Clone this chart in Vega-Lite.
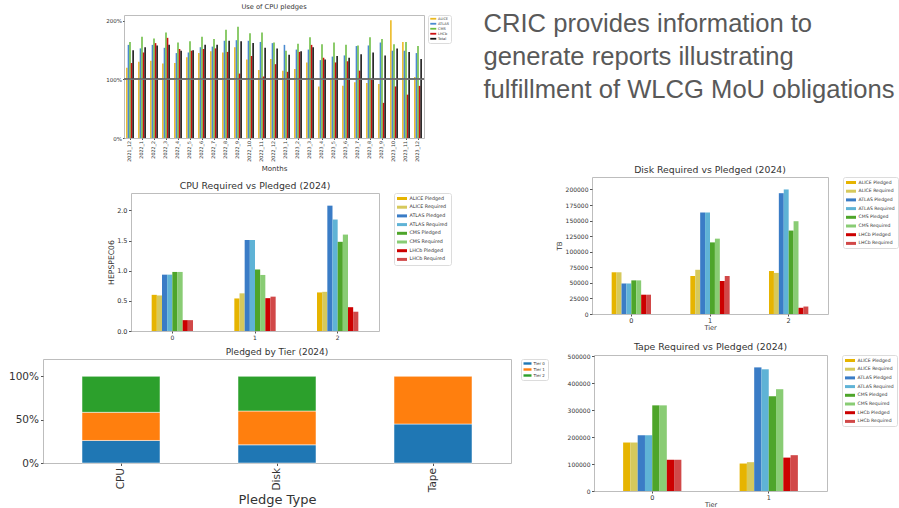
{
 "$schema": "https://vega.github.io/schema/vega-lite/v6.json",
 "background": "white",
 "padding": {"left": 5, "top": 3, "right": 0, "bottom": 0},
 "config": {
  "font": "DejaVu Sans",
  "view": {"stroke": "#bdbdbd", "strokeWidth": 1},
  "axis": {"grid": false, "domain": false, "labelColor": "#333", "titleColor": "#333", "tickColor": "#555", "titleFontWeight": "normal", "labelFont": "DejaVu Sans", "titleFont": "DejaVu Sans"},
  "title": {"font": "DejaVu Sans", "fontWeight": "normal", "color": "#333", "anchor": "middle"},
  "legend": {"labelFont": "DejaVu Sans", "labelColor": "#333", "strokeColor": "#dcdcdc", "cornerRadius": 2, "symbolType": "M-2,-0.6H2V0.6H-2Z", "symbolStrokeWidth": 0}
 },
 "resolve": {"scale": {"color": "independent", "xOffset": "independent"}, "legend": {"color": "independent"}},
 "columns": 1,
 "align": "none",
 "spacing": -7,
 "concat": [
  {
   "columns": 3,
   "align": "none",
   "spacing": 31,
   "resolve": {"scale": {"color": "independent", "xOffset": "independent"}, "legend": {"color": "independent"}},
   "concat": [
    {"width": 29, "height": 1, "view": {"stroke": null}, "data": {"values": []}, "mark": "point"},
    {
     "width": 300, "height": 123,
     "title": {"text": "Use of CPU pledges", "fontSize": 6.7, "offset": 4},
     "data": {"values": [
      {"month":"2021_12","series":"ALICE","value":120},{"month":"2021_12","series":"ATLAS","value":159},{"month":"2021_12","series":"CMS","value":164},{"month":"2021_12","series":"LHCb","value":128},{"month":"2021_12","series":"Total","value":150},
      {"month":"2022_1","series":"ALICE","value":130},{"month":"2022_1","series":"ATLAS","value":153},{"month":"2022_1","series":"CMS","value":173},{"month":"2022_1","series":"LHCb","value":146},{"month":"2022_1","series":"Total","value":155},
      {"month":"2022_2","series":"ALICE","value":132},{"month":"2022_2","series":"ATLAS","value":159},{"month":"2022_2","series":"CMS","value":170},{"month":"2022_2","series":"LHCb","value":162},{"month":"2022_2","series":"Total","value":158},
      {"month":"2022_3","series":"ALICE","value":127},{"month":"2022_3","series":"ATLAS","value":154},{"month":"2022_3","series":"CMS","value":180},{"month":"2022_3","series":"LHCb","value":171},{"month":"2022_3","series":"Total","value":159},
      {"month":"2022_4","series":"ALICE","value":128},{"month":"2022_4","series":"ATLAS","value":145},{"month":"2022_4","series":"CMS","value":163},{"month":"2022_4","series":"LHCb","value":152},{"month":"2022_4","series":"Total","value":149},
      {"month":"2022_5","series":"ALICE","value":138},{"month":"2022_5","series":"ATLAS","value":146},{"month":"2022_5","series":"CMS","value":165},{"month":"2022_5","series":"LHCb","value":149},{"month":"2022_5","series":"Total","value":150},
      {"month":"2022_6","series":"ALICE","value":145},{"month":"2022_6","series":"ATLAS","value":155},{"month":"2022_6","series":"CMS","value":173},{"month":"2022_6","series":"LHCb","value":152},{"month":"2022_6","series":"Total","value":159},
      {"month":"2022_7","series":"ALICE","value":148},{"month":"2022_7","series":"ATLAS","value":156},{"month":"2022_7","series":"CMS","value":169},{"month":"2022_7","series":"LHCb","value":153},{"month":"2022_7","series":"Total","value":159},
      {"month":"2022_8","series":"ALICE","value":146},{"month":"2022_8","series":"ATLAS","value":166},{"month":"2022_8","series":"CMS","value":185},{"month":"2022_8","series":"LHCb","value":147},{"month":"2022_8","series":"Total","value":166},
      {"month":"2022_9","series":"ALICE","value":155},{"month":"2022_9","series":"ATLAS","value":167},{"month":"2022_9","series":"CMS","value":190},{"month":"2022_9","series":"LHCb","value":110},{"month":"2022_9","series":"Total","value":165},
      {"month":"2022_10","series":"ALICE","value":134},{"month":"2022_10","series":"ATLAS","value":166},{"month":"2022_10","series":"CMS","value":179},{"month":"2022_10","series":"LHCb","value":140},{"month":"2022_10","series":"Total","value":162},
      {"month":"2022_11","series":"ALICE","value":116},{"month":"2022_11","series":"ATLAS","value":164},{"month":"2022_11","series":"CMS","value":180},{"month":"2022_11","series":"LHCb","value":105},{"month":"2022_11","series":"Total","value":154},
      {"month":"2022_12","series":"ALICE","value":135},{"month":"2022_12","series":"ATLAS","value":162},{"month":"2022_12","series":"CMS","value":163},{"month":"2022_12","series":"LHCb","value":126},{"month":"2022_12","series":"Total","value":153},
      {"month":"2023_1","series":"ALICE","value":115},{"month":"2023_1","series":"ATLAS","value":159},{"month":"2023_1","series":"CMS","value":149},{"month":"2023_1","series":"LHCb","value":113},{"month":"2023_1","series":"Total","value":142},
      {"month":"2023_2","series":"ALICE","value":118},{"month":"2023_2","series":"ATLAS","value":151},{"month":"2023_2","series":"CMS","value":161},{"month":"2023_2","series":"LHCb","value":147},{"month":"2023_2","series":"Total","value":148},
      {"month":"2023_3","series":"ALICE","value":129},{"month":"2023_3","series":"ATLAS","value":151},{"month":"2023_3","series":"CMS","value":172},{"month":"2023_3","series":"LHCb","value":159},{"month":"2023_3","series":"Total","value":155},
      {"month":"2023_4","series":"ALICE","value":88},{"month":"2023_4","series":"ATLAS","value":133},{"month":"2023_4","series":"CMS","value":160},{"month":"2023_4","series":"LHCb","value":137},{"month":"2023_4","series":"Total","value":134},
      {"month":"2023_5","series":"ALICE","value":102},{"month":"2023_5","series":"ATLAS","value":139},{"month":"2023_5","series":"CMS","value":163},{"month":"2023_5","series":"LHCb","value":129},{"month":"2023_5","series":"Total","value":140},
      {"month":"2023_6","series":"ALICE","value":89},{"month":"2023_6","series":"ATLAS","value":141},{"month":"2023_6","series":"CMS","value":159},{"month":"2023_6","series":"LHCb","value":131},{"month":"2023_6","series":"Total","value":137},
      {"month":"2023_7","series":"ALICE","value":95},{"month":"2023_7","series":"ATLAS","value":157},{"month":"2023_7","series":"CMS","value":158},{"month":"2023_7","series":"LHCb","value":115},{"month":"2023_7","series":"Total","value":143},
      {"month":"2023_8","series":"ALICE","value":94},{"month":"2023_8","series":"ATLAS","value":158},{"month":"2023_8","series":"CMS","value":172},{"month":"2023_8","series":"LHCb","value":101},{"month":"2023_8","series":"Total","value":146},
      {"month":"2023_9","series":"ALICE","value":92},{"month":"2023_9","series":"ATLAS","value":163},{"month":"2023_9","series":"CMS","value":169},{"month":"2023_9","series":"LHCb","value":60},{"month":"2023_9","series":"Total","value":141},
      {"month":"2023_10","series":"ALICE","value":201},{"month":"2023_10","series":"ATLAS","value":149},{"month":"2023_10","series":"CMS","value":160},{"month":"2023_10","series":"LHCb","value":88},{"month":"2023_10","series":"Total","value":153},
      {"month":"2023_11","series":"ALICE","value":164},{"month":"2023_11","series":"ATLAS","value":149},{"month":"2023_11","series":"CMS","value":164},{"month":"2023_11","series":"LHCb","value":74},{"month":"2023_11","series":"Total","value":147},
      {"month":"2023_12","series":"ALICE","value":104},{"month":"2023_12","series":"ATLAS","value":145},{"month":"2023_12","series":"CMS","value":157},{"month":"2023_12","series":"LHCb","value":89},{"month":"2023_12","series":"Total","value":135}
     ]},
     "layer": [
      {
       "mark": {"type": "bar"},
       "encoding": {
        "x": {"field": "month", "type": "nominal", "sort": null, "scale": {"paddingInner": 0.35, "paddingOuter": 0.175},
              "axis": {"title": "Months", "labelAngle": -90, "labelFontSize": 4.8, "tickSize": 1.5, "labelPadding": 1, "titleFontSize": 7, "titlePadding": 3}},
        "xOffset": {"field": "series", "type": "nominal", "sort": ["ALICE", "ATLAS", "CMS", "LHCb", "Total"], "scale": {"paddingInner": 0, "paddingOuter": 0}},
        "y": {"field": "value", "type": "quantitative", "scale": {"domain": [0, 210], "nice": false},
              "axis": {"title": null, "values": [0, 25, 50, 75, 100, 125, 150, 175, 200], "labelExpr": "datum.value + '%'", "labelFontSize": 5.5, "tickSize": 1.5, "labelPadding": 1, "minExtent": 20}},
        "color": {"field": "series", "type": "nominal",
                  "scale": {"domain": ["ALICE", "ATLAS", "CMS", "LHCb", "Total"], "range": ["#ebb920", "#4a8ad0", "#6cbd42", "#cc1010", "#151515"]},
                  "legend": {"title": null, "orient": "right", "offset": 4, "labelFontSize": 3.5, "symbolSize": 9, "symbolOffset": 1.5, "labelOffset": 3, "rowPadding": 0, "padding": 2}}
       }
      },
      {"mark": {"type": "rule", "color": "#777", "strokeWidth": 0.6, "opacity": 0.8}, "encoding": {"y": {"datum": 100}}}
     ]
    },
    {
     "width": 1, "height": 100,
     "view": {"stroke": null},
     "data": {"values": [
      {"line": 1, "text": "CRIC provides information to"},
      {"line": 2, "text": "generate reports illustrating"},
      {"line": 3, "text": "fulfillment of WLCG MoU obligations"}
     ]},
     "mark": {"type": "text", "align": "left", "baseline": "alphabetic", "font": "Liberation Sans", "fontSize": 25.6, "color": "#595959"},
     "encoding": {
      "y": {"field": "line", "type": "ordinal", "axis": null, "scale": {"padding": 0.515}},
      "text": {"field": "text", "type": "nominal"}
     }
    }
   ]
  },
  {
   "columns": 1,
   "align": "none",
   "spacing": 0,
   "resolve": {"scale": {"color": "independent", "xOffset": "independent"}, "legend": {"color": "independent"}},
   "concat": [
    {
     "columns": 2,
     "align": "none",
     "spacing": 0,
     "resolve": {"scale": {"color": "independent", "xOffset": "independent"}, "legend": {"color": "independent"}},
     "concat": [
      {"width": 60, "height": 1, "view": {"stroke": null}, "data": {"values": []}, "mark": "point"},
      {
       "columns": 2,
       "align": "none",
       "spacing": 102,
       "resolve": {"scale": {"color": "independent", "xOffset": "independent"}, "legend": {"color": "independent"}},
       "concat": [
        {
         "columns": 1,
         "align": "none",
         "spacing": 0,
         "resolve": {"scale": {"color": "independent", "xOffset": "independent"}, "legend": {"color": "independent"}},
         "concat": [
          {"width": 1, "height": 4, "view": {"stroke": null}, "data": {"values": []}, "mark": "point"},
          {
           "width": 248, "height": 138,
           "title": {"text": "CPU Required vs Pledged (2024)", "fontSize": 9.3, "offset": 1},
           "data": {"values": [
            {"tier":0,"series":"ALICE Pledged","value":600000},{"tier":0,"series":"ALICE Required","value":590000},{"tier":0,"series":"ATLAS Pledged","value":935000},{"tier":0,"series":"ATLAS Required","value":935000},{"tier":0,"series":"CMS Pledged","value":980000},{"tier":0,"series":"CMS Required","value":980000},{"tier":0,"series":"LHCb Pledged","value":180000},{"tier":0,"series":"LHCb Required","value":180000},
            {"tier":1,"series":"ALICE Pledged","value":540000},{"tier":1,"series":"ALICE Required","value":625000},{"tier":1,"series":"ATLAS Pledged","value":1510000},{"tier":1,"series":"ATLAS Required","value":1510000},{"tier":1,"series":"CMS Pledged","value":1020000},{"tier":1,"series":"CMS Required","value":930000},{"tier":1,"series":"LHCb Pledged","value":545000},{"tier":1,"series":"LHCb Required","value":570000},
            {"tier":2,"series":"ALICE Pledged","value":640000},{"tier":2,"series":"ALICE Required","value":650000},{"tier":2,"series":"ATLAS Pledged","value":2080000},{"tier":2,"series":"ATLAS Required","value":1850000},{"tier":2,"series":"CMS Pledged","value":1480000},{"tier":2,"series":"CMS Required","value":1600000},{"tier":2,"series":"LHCb Pledged","value":395000},{"tier":2,"series":"LHCb Required","value":320000}
           ]},
           "mark": "bar",
           "encoding": {
            "x": {"field": "tier", "type": "nominal", "scale": {"paddingInner": 0.5, "paddingOuter": 0.25}, "axis": {"title": null, "labelAngle": 0, "labelFontSize": 6, "tickSize": 2, "labelPadding": 1}},
            "xOffset": {"field": "series", "type": "nominal", "sort": ["ALICE Pledged","ALICE Required","ATLAS Pledged","ATLAS Required","CMS Pledged","CMS Required","LHCb Pledged","LHCb Required"], "scale": {"paddingInner": 0, "paddingOuter": 0}},
            "y": {"field": "value", "type": "quantitative", "scale": {"domain": [0, 2290000], "nice": false},
                  "axis": {"title": "HEPSPEC06", "values": [0, 500000, 1000000, 1500000, 2000000], "labelExpr": "format(datum.value / 1000000, '.1f')", "labelFontSize": 6.5, "tickSize": 2.5, "labelPadding": 1.5, "minExtent": 27, "titleFontSize": 7.7, "titleX": -16, "titleY": 69, "titleAngle": 270, "titleAlign": "center", "titleBaseline": "bottom"}},
            "color": {"field": "series", "type": "nominal",
                      "scale": {"domain": ["ALICE Pledged","ALICE Required","ATLAS Pledged","ATLAS Required","CMS Pledged","CMS Required","LHCb Pledged","LHCb Required"], "range": ["#e6b400","#d6c95c","#3a7cc6","#5fb3d6","#4ea52a","#89cc74","#cc0000","#d14848"]},
                      "legend": {"title": null, "orient": "right", "offset": 15, "labelFontSize": 4.8, "symbolSize": 25, "symbolOffset": 2.5, "labelOffset": 5, "rowPadding": 2.7, "padding": 3}}
           }
          }
         ]
        },
        {
         "width": 236, "height": 137,
         "title": {"text": "Disk Required vs Pledged (2024)", "fontSize": 9.3, "offset": 1},
         "data": {"values": [
          {"tier":0,"series":"ALICE Pledged","value":67000},{"tier":0,"series":"ALICE Required","value":67000},{"tier":0,"series":"ATLAS Pledged","value":49000},{"tier":0,"series":"ATLAS Required","value":49000},{"tier":0,"series":"CMS Pledged","value":54000},{"tier":0,"series":"CMS Required","value":54000},{"tier":0,"series":"LHCb Pledged","value":31000},{"tier":0,"series":"LHCb Required","value":31000},
          {"tier":1,"series":"ALICE Pledged","value":61000},{"tier":1,"series":"ALICE Required","value":71000},{"tier":1,"series":"ATLAS Pledged","value":163000},{"tier":1,"series":"ATLAS Required","value":163000},{"tier":1,"series":"CMS Pledged","value":115000},{"tier":1,"series":"CMS Required","value":121000},{"tier":1,"series":"LHCb Pledged","value":53000},{"tier":1,"series":"LHCb Required","value":61000},
          {"tier":2,"series":"ALICE Pledged","value":69000},{"tier":2,"series":"ALICE Required","value":66000},{"tier":2,"series":"ATLAS Pledged","value":194000},{"tier":2,"series":"ATLAS Required","value":200000},{"tier":2,"series":"CMS Pledged","value":134000},{"tier":2,"series":"CMS Required","value":149000},{"tier":2,"series":"LHCb Pledged","value":10000},{"tier":2,"series":"LHCb Required","value":12000}
         ]},
         "mark": "bar",
         "encoding": {
          "x": {"field": "tier", "type": "nominal", "scale": {"paddingInner": 0.5, "paddingOuter": 0.25}, "axis": {"title": "Tier", "labelAngle": 0, "labelFontSize": 6.5, "tickSize": 2, "labelPadding": 1, "titleFontSize": 6.5, "titlePadding": 1}},
          "xOffset": {"field": "series", "type": "nominal", "sort": ["ALICE Pledged","ALICE Required","ATLAS Pledged","ATLAS Required","CMS Pledged","CMS Required","LHCb Pledged","LHCb Required"], "scale": {"paddingInner": 0, "paddingOuter": 0}},
          "y": {"field": "value", "type": "quantitative", "scale": {"domain": [0, 220000], "nice": false},
                "axis": {"title": "TB", "values": [0, 25000, 50000, 75000, 100000, 125000, 150000, 175000, 200000], "format": "d", "labelFontSize": 6, "tickSize": 2.5, "labelPadding": 1.5, "titleFontSize": 7, "titleX": -30, "titleY": 68.5, "titleAngle": 270, "titleAlign": "center", "titleBaseline": "bottom"}},
          "color": {"field": "series", "type": "nominal",
                    "scale": {"domain": ["ALICE Pledged","ALICE Required","ATLAS Pledged","ATLAS Required","CMS Pledged","CMS Required","LHCb Pledged","LHCb Required"], "range": ["#e6b400","#d6c95c","#3a7cc6","#5fb3d6","#4ea52a","#89cc74","#cc0000","#d14848"]},
                    "legend": {"title": null, "orient": "right", "offset": 15, "labelFontSize": 4.6, "symbolSize": 25, "symbolOffset": 2.5, "labelOffset": 5, "rowPadding": 2.7, "padding": 3}}
         }
        }
       ]
      }
     ]
    },
    {
     "columns": 2,
     "align": "none",
     "spacing": 16,
     "resolve": {"scale": {"color": "independent", "xOffset": "independent"}, "legend": {"color": "independent"}},
     "concat": [
      {
       "columns": 1,
       "align": "none",
       "spacing": 0,
       "resolve": {"scale": {"color": "independent", "xOffset": "independent"}, "legend": {"color": "independent"}},
       "concat": [
        {"width": 1, "height": 5.8, "view": {"stroke": null}, "data": {"values": []}, "mark": "point"},
        {
         "width": 468, "height": 104,
         "title": {"text": "Pledged by Tier (2024)", "fontSize": 9, "offset": 1.5},
         "data": {"values": [
          {"type":"CPU","tier":"Tier 0","pct":26},{"type":"CPU","tier":"Tier 1","pct":32.5},{"type":"CPU","tier":"Tier 2","pct":41.5},
          {"type":"Disk","tier":"Tier 0","pct":21},{"type":"Disk","tier":"Tier 1","pct":39},{"type":"Disk","tier":"Tier 2","pct":40},
          {"type":"Tape","tier":"Tier 0","pct":45},{"type":"Tape","tier":"Tier 1","pct":55}
         ]},
         "mark": {"type": "bar", "stroke": "white", "strokeWidth": 0.5},
         "encoding": {
          "x": {"field": "type", "type": "nominal", "scale": {"paddingInner": 0.5, "paddingOuter": 0.25}, "axis": {"title": "Pledge Type", "labelAngle": -90, "labelFontSize": 10.5, "tickSize": 2.5, "labelPadding": 2, "titleFontSize": 13, "titlePadding": 2}},
          "y": {"field": "pct", "type": "quantitative", "stack": "zero", "scale": {"domain": [0, 120], "nice": false},
                "axis": {"title": null, "values": [0, 50, 100], "labelExpr": "datum.value + '%'", "labelFontSize": 10.5, "tickSize": 2.5, "labelPadding": 2, "minExtent": 37}},
          "color": {"field": "tier", "type": "nominal", "scale": {"domain": ["Tier 0", "Tier 1", "Tier 2"], "range": ["#1f77b4", "#ff7f0e", "#2ca02c"]},
                    "legend": {"title": null, "orient": "right", "offset": 10, "labelFontSize": 4, "symbolSize": 16, "symbolOffset": 2, "labelOffset": 4, "rowPadding": 2, "padding": 2.5}},
          "order": {"field": "tier", "sort": "ascending"}
         }
        }
       ]
      },
      {
       "columns": 1,
       "align": "none",
       "spacing": 0,
       "resolve": {"scale": {"color": "independent", "xOffset": "independent"}, "legend": {"color": "independent"}},
       "concat": [
        {"width": 1, "height": 1, "view": {"stroke": null}, "data": {"values": []}, "mark": "point"},
        {
         "width": 233, "height": 136,
         "title": {"text": "Tape Required vs Pledged (2024)", "fontSize": 9.3, "offset": 1},
         "data": {"values": [
          {"tier":0,"series":"ALICE Pledged","value":180000},{"tier":0,"series":"ALICE Required","value":180000},{"tier":0,"series":"ATLAS Pledged","value":207000},{"tier":0,"series":"ATLAS Required","value":207000},{"tier":0,"series":"CMS Pledged","value":318000},{"tier":0,"series":"CMS Required","value":318000},{"tier":0,"series":"LHCb Pledged","value":116000},{"tier":0,"series":"LHCb Required","value":116000},
          {"tier":1,"series":"ALICE Pledged","value":102000},{"tier":1,"series":"ALICE Required","value":107000},{"tier":1,"series":"ATLAS Pledged","value":459000},{"tier":1,"series":"ATLAS Required","value":452000},{"tier":1,"series":"CMS Pledged","value":352000},{"tier":1,"series":"CMS Required","value":378000},{"tier":1,"series":"LHCb Pledged","value":124000},{"tier":1,"series":"LHCb Required","value":133000}
         ]},
         "mark": "bar",
         "encoding": {
          "x": {"field": "tier", "type": "nominal", "scale": {"paddingInner": 0.5, "paddingOuter": 0.25}, "axis": {"title": "Tier", "labelAngle": 0, "labelFontSize": 6.5, "tickSize": 2, "labelPadding": 1, "titleFontSize": 6.5, "titlePadding": 1}},
          "xOffset": {"field": "series", "type": "nominal", "sort": ["ALICE Pledged","ALICE Required","ATLAS Pledged","ATLAS Required","CMS Pledged","CMS Required","LHCb Pledged","LHCb Required"], "scale": {"paddingInner": 0, "paddingOuter": 0}},
          "y": {"field": "value", "type": "quantitative", "scale": {"domain": [0, 505000], "nice": false},
                "axis": {"title": null, "values": [0, 100000, 200000, 300000, 400000, 500000], "format": "d", "labelFontSize": 6, "tickSize": 2.5, "labelPadding": 1.5, "minExtent": 28}},
          "color": {"field": "series", "type": "nominal",
                    "scale": {"domain": ["ALICE Pledged","ALICE Required","ATLAS Pledged","ATLAS Required","CMS Pledged","CMS Required","LHCb Pledged","LHCb Required"], "range": ["#e6b400","#d6c95c","#3a7cc6","#5fb3d6","#4ea52a","#89cc74","#cc0000","#d14848"]},
                    "legend": {"title": null, "orient": "right", "offset": 15, "labelFontSize": 4.6, "symbolSize": 25, "symbolOffset": 2.5, "labelOffset": 5, "rowPadding": 2.7, "padding": 3}}
         }
        }
       ]
      }
     ]
    }
   ]
  }
 ]
}
